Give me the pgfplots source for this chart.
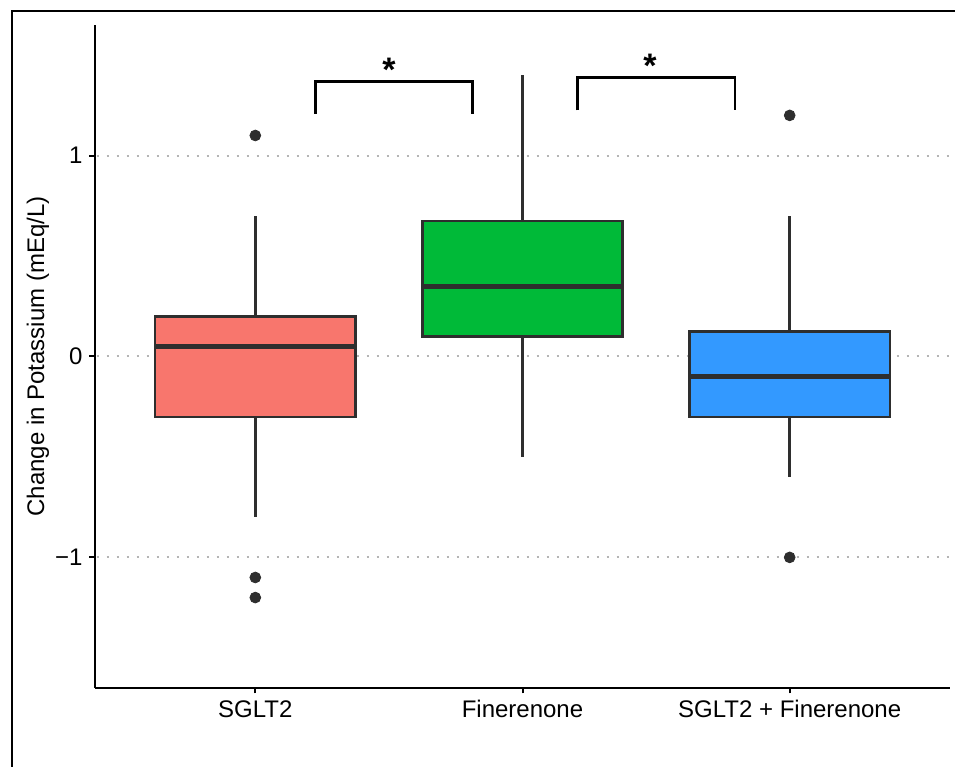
\documentclass[border=0pt]{standalone}
\usepackage{pgfplots}
\pgfplotsset{compat=1.18}
\usepgfplotslibrary{statistics}
\usetikzlibrary{calc}
\usepackage{fontspec}
\setmainfont{Liberation Sans}
\definecolor{cred}{HTML}{F8766D}
\definecolor{cgreen}{HTML}{00BA38}
\definecolor{cblue}{HTML}{3399FF}
\definecolor{boxline}{HTML}{2E2E2E}
\definecolor{gridc}{HTML}{B4B4B4}
\begin{document}
\begin{tikzpicture}
\begin{axis}[
  name=ax,
  scale only axis,
  width=427.5pt, height=331.5pt,
  xmin=0.4, xmax=3.6, ymin=-1.65, ymax=1.65,
  axis x line*=bottom, axis y line*=left,
  axis line style={-, line width=1pt, black},
  xtick={1,2,3},
  xticklabels={SGLT2, Finerenone, SGLT2 + Finerenone},
  ytick={-1,0,1},
  yticklabels={−1,0,1},
  tick align=outside,
  major tick length=2.75pt,
  tick style={line width=1pt, black},
  tick label style={font=\fontsize{12}{14}\selectfont, black},
  ymajorgrids,
  grid style={gridc, line width=1pt, dash pattern=on 1pt off 4pt, dash phase=-0.8pt},
  every axis y label/.style={at={(axis description cs:-0.0667,0.5)}, rotate=90, anchor=center, font=\fontsize{12}{14}\selectfont},
  ylabel={Change in Potassium (mEq/L)},
  boxplot/draw direction=y,
  clip=false,
]
\addplot[boxplot prepared={draw position=1, lower whisker=-0.8, lower quartile=-0.3, median=0.05, upper quartile=0.2, upper whisker=0.7, box extend=0.75, whisker extend=0},
  draw=boxline, line width=1.2pt,
  boxplot/every box/.style={fill=cred},
  boxplot/every median/.style={line width=2.5pt}] coordinates {};
\addplot[boxplot prepared={draw position=2, lower whisker=-0.5, lower quartile=0.1, median=0.35, upper quartile=0.675, upper whisker=1.4, box extend=0.75, whisker extend=0},
  draw=boxline, line width=1.2pt,
  boxplot/every box/.style={fill=cgreen},
  boxplot/every median/.style={line width=2.5pt}] coordinates {};
\addplot[boxplot prepared={draw position=3, lower whisker=-0.6, lower quartile=-0.3, median=-0.1, upper quartile=0.125, upper whisker=0.7, box extend=0.75, whisker extend=0},
  draw=boxline, line width=1.2pt,
  boxplot/every box/.style={fill=cblue},
  boxplot/every median/.style={line width=2.5pt}] coordinates {};
\addplot[only marks, mark=*, mark size=2.7pt, mark options={draw=boxline, fill=boxline}]
  coordinates {(1,1.1) (1,-1.1) (1,-1.2) (3,1.2) (3,-1.0)};
\addplot[black, line width=1.35pt, mark=none] coordinates {(1.225,1.209) (1.225,1.368) (1.814,1.368) (1.814,1.209)};
\addplot[black, line width=1.35pt, mark=none] coordinates {(2.207,1.225) (2.207,1.388) (2.795,1.388) (2.795,1.225)};
\node[anchor=base, font=\fontsize{17}{20}\selectfont\bfseries, inner sep=0pt] at (axis cs:1.5,1.37) {*};
\node[anchor=base, font=\fontsize{17}{20}\selectfont\bfseries, inner sep=0pt] at (axis cs:2.477,1.39) {*};
\end{axis}
\draw[line width=1pt] ($(ax.south west)+(-41.5pt,-45pt)$) |- ($(ax.north east)+(10pt,7pt)$);
\pgfresetboundingbox
\useasboundingbox ($(ax.south west)+(-47.5pt,-39.5pt)$) rectangle ($(ax.north east)+(2.5pt,12.5pt)$);
\end{tikzpicture}
\end{document}
